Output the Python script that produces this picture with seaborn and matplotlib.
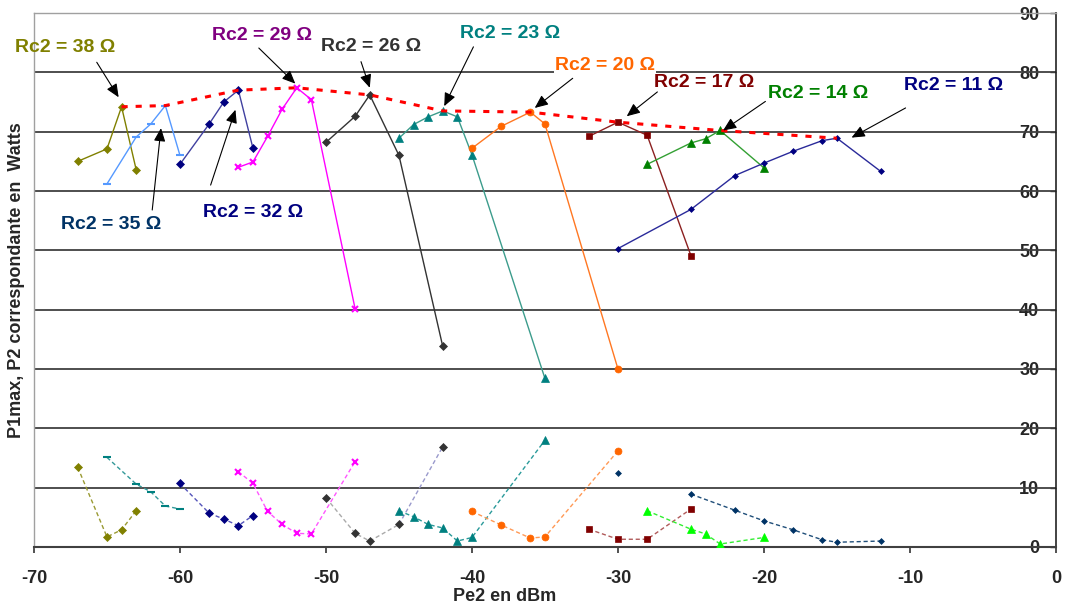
import matplotlib
matplotlib.use("Agg")
import matplotlib.pyplot as plt
import seaborn as sns

# Pe2 (dBm), P1max (W, upper curves) and P2 (W, lower curves) for each Rc2.
pe_38 = [-67, -65, -64, -63]
p1_38 = [65.0, 67.1, 74.2, 63.6]
p2_38 = [13.4, 1.7, 2.9, 6.1]

pe_35 = [-65, -63, -62, -61, -60]
p1_35 = [61.2, 69.1, 71.3, 74.4, 66.0]
p2_35 = [15.1, 10.6, 9.3, 6.9, 6.4]

pe_32 = [-60, -58, -57, -56, -55]
p1_32 = [64.5, 71.3, 75.0, 77.0, 67.2]
p2_32 = [10.7, 5.7, 4.7, 3.6, 5.3]

pe_29 = [-56, -55, -54, -53, -52, -51, -48]
p1_29 = [64.0, 64.9, 69.2, 73.8, 77.4, 75.4, 40.1]
p2_29 = [12.7, 10.7, 6.0, 3.8, 2.3, 2.2, 14.4]

pe_26 = [-50, -48, -47, -45, -42]
p1_26 = [68.2, 72.6, 76.2, 66.0, 33.8]
p2_26 = [8.3, 2.3, 1.0, 3.8, 16.9]

pe_23 = [-45, -44, -43, -42, -41, -40, -35]
p1_23 = [68.9, 71.2, 72.5, 73.5, 72.5, 66.1, 28.4]
p2_23 = [6.1, 5.1, 3.8, 3.2, 1.0, 1.6, 18.0]

pe_20 = [-40, -38, -36, -35, -30]
p1_20 = [67.2, 70.9, 73.3, 71.3, 30.0]
p2_20 = [6.0, 3.7, 1.5, 1.7, 16.2]

pe_17 = [-32, -30, -28, -25]
p1_17 = [69.2, 71.6, 69.4, 49.1]
p2_17 = [3.0, 1.3, 1.3, 6.4]

pe_14 = [-28, -25, -24, -23, -20]
p1_14 = [64.5, 68.1, 68.8, 70.2, 63.9]
p2_14 = [6.1, 3.0, 2.2, 0.5, 1.6]

pe_11 = [-30, -25, -22, -20, -18, -16, -15, -12]
p1_11 = [50.3, 56.9, 62.6, 64.7, 66.7, 68.5, 68.9, 63.3]
p2_11 = [12.5, 8.9, 6.2, 4.4, 2.9, 1.2, 0.8, 1.0]

rc2_labels = ["38", "35", "32", "29", "26", "23", "20", "17", "14", "11"]

# Styles: (upper line colour, lower line colour, marker colour, marker, size)
styles = {
    "38": ("#808000", "#9a9a33", "#808000", "D", 4.5),
    "35": ("#5599ff", "#339999", None, "_", 6),
    "32": ("#4040a0", "#5555bb", "#000080", "D", 4.5),
    "29": ("#ff00ff", "#ff55ff", "#ff00ff", "x", 5),
    "26": ("#333333", "#aaaaaa", "#333333", "D", 4.5),
    "23": ("#3c9c8c", "#2a9a9a", "#008080", "^", 6),
    "20": ("#ff7722", "#ff9955", "#ff6600", "o", 5),
    "17": ("#8b2020", "#b05a5a", "#800000", "s", 5),
    "14": ("#33a033", "#33ee33", None, "^", 6),
    "11": ("#2a2a9a", "#1f4e79", None, "D", 3),
}
upper_mk = {"35": "#5599ff", "14": "#008000", "11": "#000080"}
lower_mk = {"35": "#008080", "14": "#00ff00", "11": "#003366"}

data = {
    "38": (pe_38, p1_38, p2_38), "35": (pe_35, p1_35, p2_35),
    "32": (pe_32, p1_32, p2_32), "29": (pe_29, p1_29, p2_29),
    "26": (pe_26, p1_26, p2_26), "23": (pe_23, p1_23, p2_23),
    "20": (pe_20, p1_20, p2_20), "17": (pe_17, p1_17, p2_17),
    "14": (pe_14, p1_14, p2_14), "11": (pe_11, p1_11, p2_11),
}

# Label text colours, label centres and arrow (start, tip) in data units.
label_colors = ["#808000", "#003366", "#000080", "#800080", "#333333",
                "#008080", "#ff6600", "#800000", "#008000", "#000080"]
label_pos = [(-67.9, 84.2), (-64.7, 54.3), (-55.0, 56.4), (-54.4, 86.2),
             (-46.9, 84.3), (-37.4, 86.6), (-30.9, 81.2), (-24.1, 78.3),
             (-16.3, 76.4), (-7.0, 77.8)]
arrow_start = [(-65.7, 81.7), (-61.9, 56.8), (-57.9, 61.0), (-54.6, 84.1),
               (-47.6, 81.8), (-39.9, 84.3), (-33.1, 79.0), (-27.3, 76.7),
               (-19.9, 75.1), (-10.3, 74.0)]
arrow_tip = [(-64.2, 75.8), (-61.3, 70.6), (-56.2, 73.7), (-52.1, 78.1),
             (-47.0, 77.4), (-41.9, 74.3), (-35.7, 74.0), (-29.4, 72.6),
             (-22.8, 70.2), (-14.0, 69.0)]

sns.set_theme(style="white")
plt.rcParams["font.family"] = ["Liberation Sans", "DejaVu Sans"]
plt.rcParams["font.weight"] = "bold"
plt.rcParams["axes.unicode_minus"] = False

fig = plt.figure(figsize=(10.65, 6.06), dpi=100)
ax = fig.add_axes([0.0319, 0.0974, 0.9596, 0.8811])

# Horizontal grid lines.
for g in range(10, 90, 10):
    ax.axhline(g, color="#404040", lw=1.3, zorder=1)

for key in rc2_labels:
    pe, p1, p2 = data[key]
    c_up, c_low, c_mk, mk, ms = styles[key]
    mk_up = c_mk or upper_mk[key]
    mk_low = c_mk or lower_mk[key]
    if key == "35":
        mk_low = lower_mk[key]
    mew = 1.5 if mk in ("x", "_") else 0.5

    # Upper curve: P1max.
    sns.lineplot(x=pe, y=p1, ax=ax, sort=False, color=c_up, lw=1.0,
                 marker=mk, markersize=ms, markerfacecolor=mk_up,
                 markeredgecolor=mk_up, markeredgewidth=mew, zorder=3)

    # Lower curve: corresponding P2 (dashed).
    if key == "26":
        sns.lineplot(x=pe[:4], y=p2[:4], ax=ax, sort=False, color=c_low,
                     lw=1.0, linestyle=(0, (3, 2)), zorder=3)
        sns.lineplot(x=pe[3:], y=p2[3:], ax=ax, sort=False, color="#9999cc",
                     lw=1.0, linestyle=(0, (3, 2)), zorder=3)
    elif key == "11":
        sns.lineplot(x=pe[1:], y=p2[1:], ax=ax, sort=False, color=c_low,
                     lw=1.0, linestyle=(0, (3, 2)), zorder=3)
    else:
        sns.lineplot(x=pe, y=p2, ax=ax, sort=False, color=c_low,
                     lw=1.0, linestyle=(0, (3, 2)), zorder=3)
    ax.plot(pe, p2, linestyle="none", marker=mk, markersize=ms,
            markerfacecolor=mk_low, markeredgecolor=mk_low,
            markeredgewidth=mew, zorder=4)

# Red dotted envelope through the maximum of each upper curve.
env_x, env_y = [], []
for key in rc2_labels:
    pe, p1, _ = data[key]
    i = p1.index(max(p1))
    env_x.append(pe[i])
    env_y.append(p1[i])
sns.lineplot(x=env_x, y=env_y, ax=ax, sort=False, color="#ff0000", lw=2.2,
             linestyle=(0, (2, 2.6)), zorder=5)

# Rc2 labels with arrows.
for key, col, (tx, ty), st, tip in zip(rc2_labels, label_colors, label_pos,
                                       arrow_start, arrow_tip):
    bbox = dict(facecolor="white", edgecolor="none", pad=0.5) if key == "20" else None
    ax.text(tx, ty, f"Rc2 = {key} Ω", color=col, fontsize=14, fontweight="bold",
            ha="center", va="center", clip_on=False, zorder=6, bbox=bbox)
    ax.annotate("", xy=tip, xytext=st, zorder=7,
                arrowprops=dict(arrowstyle="-|>,head_length=0.8,head_width=0.35",
                                color="black", lw=0.8, shrinkA=0, shrinkB=0,
                                mutation_scale=10))

ax.set_xlim(-70, 0)
ax.set_ylim(0, 90)
ax.set_xticks(range(-70, 1, 10))
ax.set_yticks(range(0, 91, 10))

ax.yaxis.tick_right()
ax.tick_params(axis="y", right=True, left=False, labelright=True,
               labelleft=False, direction="in", length=4, width=1.0,
               color="#333333", pad=-12, labelsize=13)
ax.tick_params(axis="x", bottom=True, direction="out", length=4.5, width=1.2,
               color="#333333", pad=12, labelsize=13)
plt.setp(ax.get_yticklabels(), ha="right", fontweight="bold")
plt.setp(ax.get_xticklabels(), fontweight="bold")

for side in ("left", "top"):
    ax.spines[side].set_color("#a0a0a0")
    ax.spines[side].set_linewidth(1.0)
ax.spines["right"].set_color("#222222")
ax.spines["right"].set_linewidth(1.2)
ax.spines["bottom"].set_color("#404040")
ax.spines["bottom"].set_linewidth(1.5)

ax.set_xlabel("Pe2 en dBm", fontsize=13, fontweight="bold")
ax.set_ylabel("P1max, P2 correspondante en  Watts", fontsize=13, fontweight="bold")
ax.xaxis.set_label_coords(0.461, -0.076)
ax.yaxis.set_label_coords(-0.009, 0.5)
ax.grid(False)

fig.savefig("out.png", dpi=100)
